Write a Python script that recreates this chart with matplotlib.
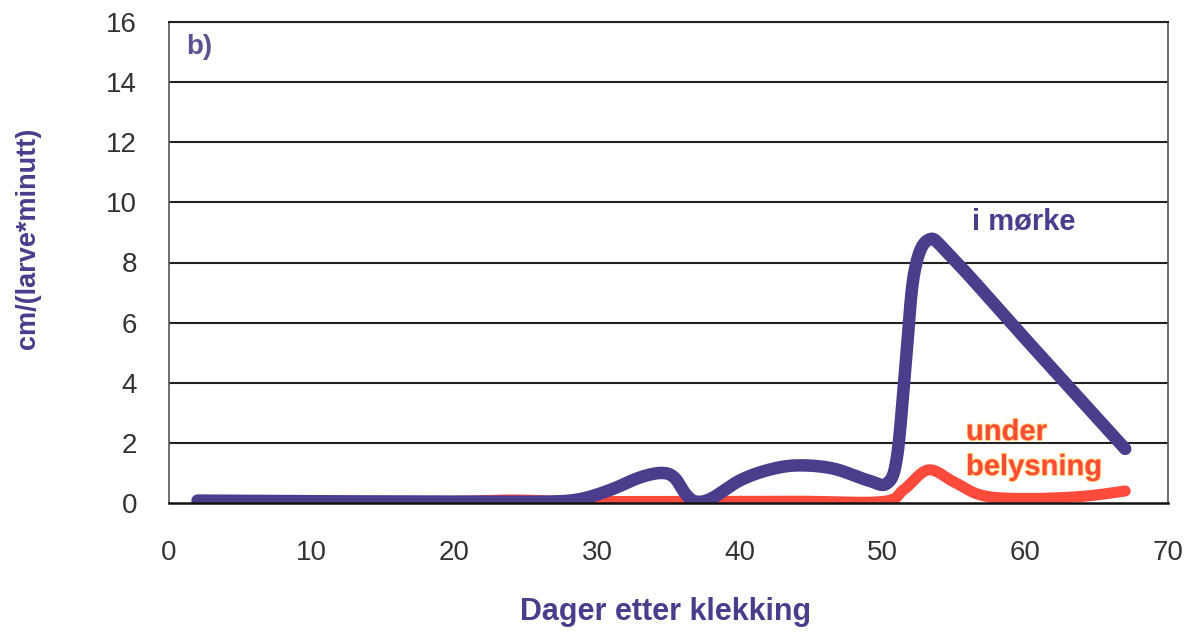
import numpy as np
import matplotlib
matplotlib.use("Agg")
import matplotlib.pyplot as plt
import matplotlib.patheffects as pe

# ---- data ----
days_dark = [2, 9, 16, 23, 27, 29, 31, 33, 34.5, 35.4, 36.2, 36.9, 38, 40, 42, 44,
             46.5, 49, 50.3, 51.0, 51.6, 52.2, 53.2, 54.8, 60.5, 67]
vals_dark = [0.08, 0.06, 0.05, 0.04, 0.05, 0.15, 0.45, 0.85, 1.0, 0.85, 0.3, 0.05, 0.15,
             0.75, 1.1, 1.25, 1.15, 0.75, 0.65, 1.5, 4.5, 7.6, 8.75, 8.2, 5.2, 1.8]

days_light = [2, 9, 16, 20, 24, 28, 31, 37, 44, 50, 51.5, 53.2, 55, 57, 60, 64, 67]
vals_light = [0.03, 0.03, 0.03, 0.05, 0.1, 0.05, 0.05, 0.05, 0.06, 0.05, 0.45, 1.1,
              0.7, 0.25, 0.15, 0.22, 0.4]

yticks = [0, 2, 4, 6, 8, 10, 12, 14, 16]
xticks = [0, 10, 20, 30, 40, 50, 60, 70]

PURPLE = '#4b3c8c'
RED = '#ff4a3c'
FONT = 'Liberation Sans'

fig = plt.figure(figsize=(11.85, 6.34), dpi=100)
ax = fig.add_axes([169 / 1185, 1 - 503 / 634, (1168 - 169) / 1185, (503 - 22) / 634])
ax.set_xlim(0, 70)
ax.set_ylim(0, 16)


def smooth(ax, xs, ys, n=40):
    """Excel-like smoothed line (Catmull-Rom Bezier in screen space)."""
    P = ax.transData.transform(np.column_stack([xs, ys]))
    out = []
    for i in range(len(P) - 1):
        p0 = P[i - 1] if i > 0 else P[i]
        p1 = P[i]
        p2 = P[i + 1]
        p3 = P[i + 2] if i + 2 < len(P) else P[i + 1]
        c1 = p1 + (p2 - p0) / 6.0
        c2 = p2 - (p3 - p1) / 6.0
        t = np.linspace(0, 1, n)[:, None]
        seg = (1 - t) ** 3 * p1 + 3 * (1 - t) ** 2 * t * c1 + 3 * (1 - t) * t ** 2 * c2 + t ** 3 * p2
        out.append(seg if i == 0 else seg[1:])
    S = np.vstack(out)
    D = ax.transData.inverted().transform(S)
    return D[:, 0], D[:, 1]


# grid
for yv in yticks[1:]:
    ax.axhline(yv, color='#222222', lw=1.5, zorder=1)

xl, yl = smooth(ax, days_light, vals_light)
ax.plot(xl, yl, color=RED, lw=8, solid_capstyle='round', solid_joinstyle='round', zorder=3)
xd, yd = smooth(ax, days_dark, vals_dark)
ax.plot(xd, yd, color=PURPLE, lw=9, solid_capstyle='round', solid_joinstyle='round', zorder=4)

for s in ['left', 'right']:
    ax.spines[s].set_color('#555555')
    ax.spines[s].set_linewidth(1.2)
ax.spines['top'].set_color('#222222')
ax.spines['top'].set_linewidth(1.5)
ax.spines['bottom'].set_color('#111111')
ax.spines['bottom'].set_linewidth(1.8)
ax.spines['bottom'].set_zorder(5)

ax.set_xticks(xticks)
ax.set_yticks(yticks)
ax.tick_params(axis='both', length=0, labelsize=20, colors='#333333')
ax.tick_params(axis='x', pad=27)
ax.tick_params(axis='y', pad=23)
for lab in ax.get_xticklabels() + ax.get_yticklabels():
    lab.set_fontfamily(FONT)

fig.text(666 / 1185, 1 - 612 / 634, 'Dager etter klekking', ha='center', va='center',
         fontsize=22, fontweight='bold', color=PURPLE, family=FONT)
fig.text(28 / 1185, 1 - 238 / 634, 'cm/(larve*minutt)', ha='center', va='center',
         rotation=90, fontsize=19.5, fontweight='bold', color=PURPLE, family=FONT)

fig.text(186 / 1185, 1 - 47 / 634, 'b)', ha='left', va='center', fontsize=20,
         fontweight='bold', color='#5a5590', family=FONT)
fig.text(972 / 1185, 1 - 222 / 634, 'i mørke', ha='left', va='center', fontsize=21,
         fontweight='bold', color=PURPLE, family=FONT)
halo = [pe.withStroke(linewidth=1.2, foreground='#ffcf60')]
fig.text(966 / 1185, 1 - 432 / 634, 'under', ha='left', va='center', fontsize=21,
         fontweight='bold', color=RED, family=FONT, path_effects=halo)
fig.text(966 / 1185, 1 - 467 / 634, 'belysning', ha='left', va='center', fontsize=21,
         fontweight='bold', color=RED, family=FONT, path_effects=halo)

fig.savefig('out.png', dpi=100)
